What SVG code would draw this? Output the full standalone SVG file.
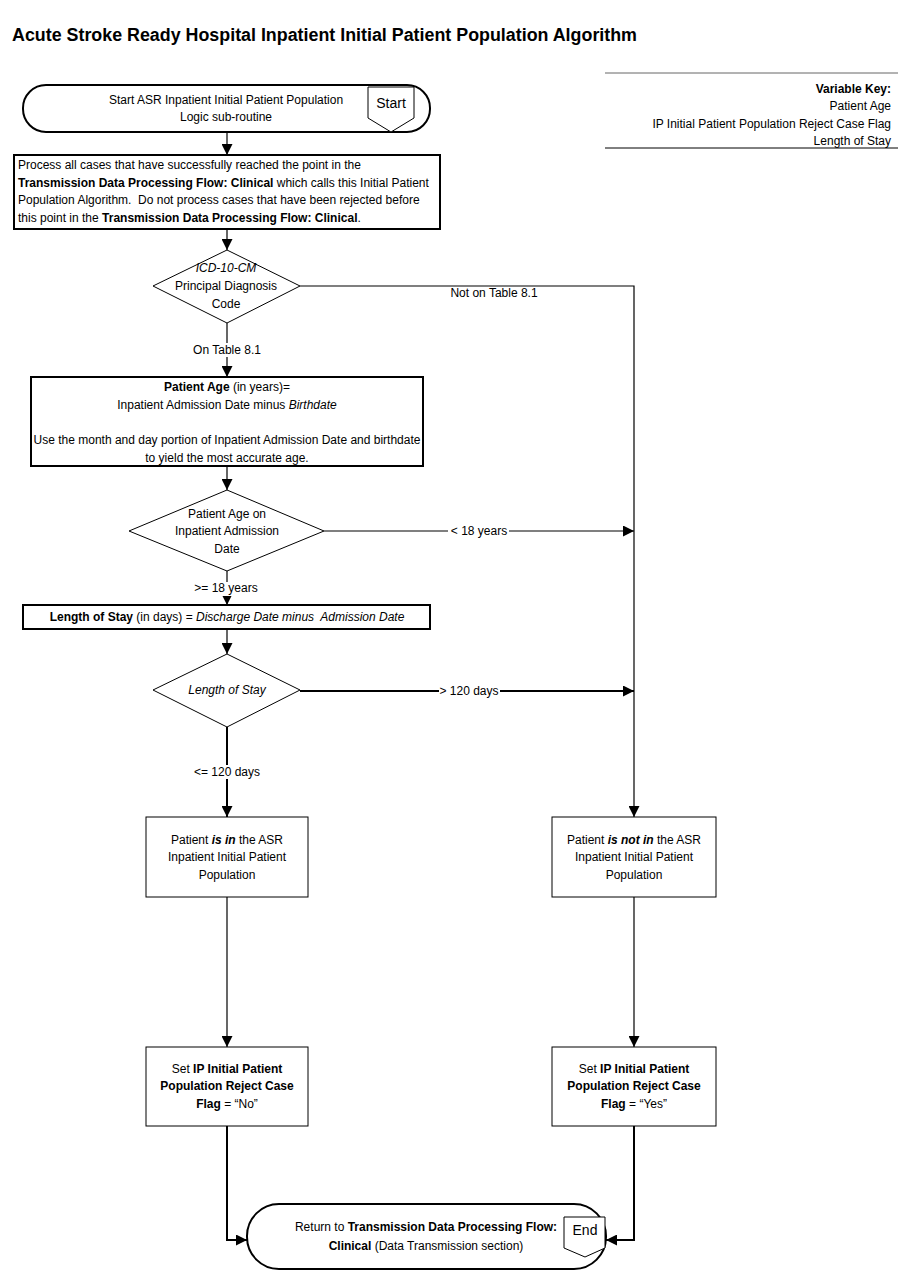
<svg xmlns="http://www.w3.org/2000/svg" width="900" height="1286" viewBox="0 0 900 1286">
<style>
text{font-family:"Liberation Sans",Arial,sans-serif;font-size:12px;fill:#000}
.c{text-anchor:middle}
.r{text-anchor:end}
.b{font-weight:bold}
.i{font-style:italic}
.pre{white-space:pre}
.thin{fill:#fff;stroke:#000;stroke-width:1}
.thick{fill:#fff;stroke:#000;stroke-width:2}
.ln{fill:none;stroke:#000;stroke-width:1.2}
.ln2{fill:none;stroke:#000;stroke-width:2}
.lbg{fill:#fff}
</style>
<defs>
<marker id="ah" viewBox="0 0 10 10" refX="10" refY="5" markerWidth="11" markerHeight="11" markerUnits="userSpaceOnUse" orient="auto">
<path d="M0,0 L10,5 L0,10 z" fill="#000"/>
</marker>
</defs>
<rect width="900" height="1286" fill="#fff"/>
<text x="12" y="41" class="b" style="font-size:18px" textLength="625" lengthAdjust="spacingAndGlyphs">Acute Stroke Ready Hospital Inpatient Initial Patient Population Algorithm</text>

<g id="key">
<line x1="605" y1="73" x2="898" y2="73" stroke="#666" stroke-width="1"/>
<line x1="605" y1="148" x2="898" y2="148" stroke="#000" stroke-width="1"/>
<text x="891" y="93" class="r b">Variable Key:</text>
<text x="891" y="110" class="r">Patient Age</text>
<text x="891" y="128" class="r">IP Initial Patient Population Reject Case Flag</text>
<text x="891" y="145" class="r">Length of Stay</text>
</g>

<g id="connectors">
<line class="ln" x1="227" y1="132" x2="227" y2="155" marker-end="url(#ah)"/>
<line class="ln" x1="227" y1="229" x2="227" y2="250" marker-end="url(#ah)"/>
<polyline class="ln" points="300,286 634,286 634,531"/>
<line class="ln" x1="227" y1="323" x2="227" y2="377" marker-end="url(#ah)"/>
<line class="ln" x1="227" y1="466" x2="227" y2="490" marker-end="url(#ah)"/>
<line class="ln" x1="324" y1="531" x2="634" y2="531" marker-end="url(#ah)"/>
<line class="ln" x1="634" y1="531" x2="634" y2="691"/>
<line class="ln" x1="227" y1="571" x2="227" y2="605" marker-end="url(#ah)"/>
<line class="ln" x1="227" y1="629" x2="227" y2="654" marker-end="url(#ah)"/>
<line class="ln2" x1="300" y1="691" x2="634" y2="691" marker-end="url(#ah)"/>
<line class="ln" x1="634" y1="691" x2="634" y2="817" marker-end="url(#ah)"/>
<line class="ln2" x1="227" y1="727" x2="227" y2="817" marker-end="url(#ah)"/>
<line class="ln" x1="227" y1="897" x2="227" y2="1047" marker-end="url(#ah)"/>
<line class="ln" x1="634" y1="897" x2="634" y2="1047" marker-end="url(#ah)"/>
<polyline class="ln2" points="227,1126 227,1240 247,1240" marker-end="url(#ah)"/>
<polyline class="ln2" points="634,1126 634,1240 606,1240" marker-end="url(#ah)"/>
<rect class="lbg" x="449" y="288" width="90" height="13"/>
<text x="494" y="297" class="c">Not on Table 8.1</text>
<rect class="lbg" x="191" y="343" width="72" height="14"/>
<text x="227" y="354" class="c">On Table 8.1</text>
<rect class="lbg" x="448" y="525" width="61" height="13"/>
<text x="479" y="535" class="c">&lt; 18 years</text>
<rect class="lbg" x="193" y="582" width="66" height="14"/>
<text x="226" y="592" class="c">&gt;= 18 years</text>
<rect class="lbg" x="439" y="685" width="61" height="13"/>
<text x="469" y="695" class="c">&gt; 120 days</text>
<rect class="lbg" x="192" y="765" width="70" height="14"/>
<text x="227" y="776" class="c">&lt;= 120 days</text>
</g>

<g id="start">
<rect class="thick" x="23" y="85" width="407" height="47" rx="23" ry="23"/>
<polygon class="thin" points="368,87 414,87 414,118 391,132 368,118"/>
<text x="391" y="108" class="c" style="font-size:14px">Start</text>
<text x="226" y="104" class="c">Start ASR Inpatient Initial Patient Population</text>
<text x="226" y="121" class="c">Logic sub-routine</text>
</g>

<g id="process">
<rect class="thick" x="14" y="155" width="426" height="74"/>
<text x="18" y="169">Process all cases that have successfully reached the point in the</text>
<text x="18" y="187"><tspan class="b">Transmission Data Processing Flow: Clinical</tspan> which calls this Initial Patient</text>
<text x="18" y="204" class="pre">Population Algorithm.  Do not process cases that have been rejected before</text>
<text x="18" y="222">this point in the <tspan class="b">Transmission Data Processing Flow: Clinical</tspan>.</text>
</g>

<g id="dx">
<polygon class="thin" points="227,250 300,286 227,323 153,286"/>
<text x="226" y="272" class="c i">ICD-10-CM</text>
<text x="226" y="290" class="c">Principal Diagnosis</text>
<text x="226" y="308" class="c">Code</text>
</g>

<g id="age-calc">
<rect class="thick" x="31" y="377" width="392" height="89"/>
<text x="227" y="391" class="c"><tspan class="b">Patient Age</tspan> (in years)=</text>
<text x="227" y="409" class="c">Inpatient Admission Date minus <tspan class="i">Birthdate</tspan></text>
<text x="227" y="444" class="c">Use the month and day portion of Inpatient Admission Date and birthdate</text>
<text x="227" y="462" class="c">to yield the most accurate age.</text>
</g>

<g id="age-dec">
<polygon class="thin" points="227,490 324,531 227,571 129,531"/>
<text x="227" y="518" class="c">Patient Age on</text>
<text x="227" y="535" class="c">Inpatient Admission</text>
<text x="227" y="553" class="c">Date</text>
</g>

<g id="los-calc">
<rect class="thick" x="23" y="605" width="407" height="24"/>
<text x="227" y="621" class="c pre"><tspan class="b">Length of Stay</tspan> (in days) = <tspan class="i">Discharge Date minus  Admission Date</tspan></text>
</g>

<g id="los-dec">
<polygon class="thin" points="227,654 300,690 227,727 153,690"/>
<text x="227" y="694" class="c i">Length of Stay</text>
</g>

<g id="in-pop">
<rect class="thin" x="146" y="817" width="162" height="80"/>
<text x="227" y="844" class="c">Patient <tspan class="b i">is in</tspan> the ASR</text>
<text x="227" y="861" class="c">Inpatient Initial Patient</text>
<text x="227" y="879" class="c">Population</text>
</g>

<g id="not-in-pop">
<rect class="thin" x="552" y="817" width="164" height="80"/>
<text x="634" y="844" class="c">Patient <tspan class="b i">is not in</tspan> the ASR</text>
<text x="634" y="861" class="c">Inpatient Initial Patient</text>
<text x="634" y="879" class="c">Population</text>
</g>

<g id="flag-no">
<rect class="thin" x="146" y="1047" width="162" height="79"/>
<text x="227" y="1073" class="c">Set <tspan class="b">IP Initial Patient</tspan></text>
<text x="227" y="1090" class="c b">Population Reject Case</text>
<text x="227" y="1108" class="c"><tspan class="b">Flag</tspan> = “No”</text>
</g>

<g id="flag-yes">
<rect class="thin" x="552" y="1047" width="164" height="79"/>
<text x="634" y="1073" class="c">Set <tspan class="b">IP Initial Patient</tspan></text>
<text x="634" y="1090" class="c b">Population Reject Case</text>
<text x="634" y="1108" class="c"><tspan class="b">Flag</tspan> = “Yes”</text>
</g>

<g id="end">
<rect class="thick" x="247" y="1204" width="359" height="65" rx="32" ry="32"/>
<polygon class="thin" points="564,1217 605,1217 605,1248 585,1257 564,1248"/>
<text x="585" y="1235" class="c" style="font-size:14px">End</text>
<text x="426" y="1231" class="c">Return to <tspan class="b">Transmission Data Processing Flow:</tspan></text>
<text x="426" y="1250" class="c"><tspan class="b">Clinical</tspan> (Data Transmission section)</text>
</g>
</svg>
